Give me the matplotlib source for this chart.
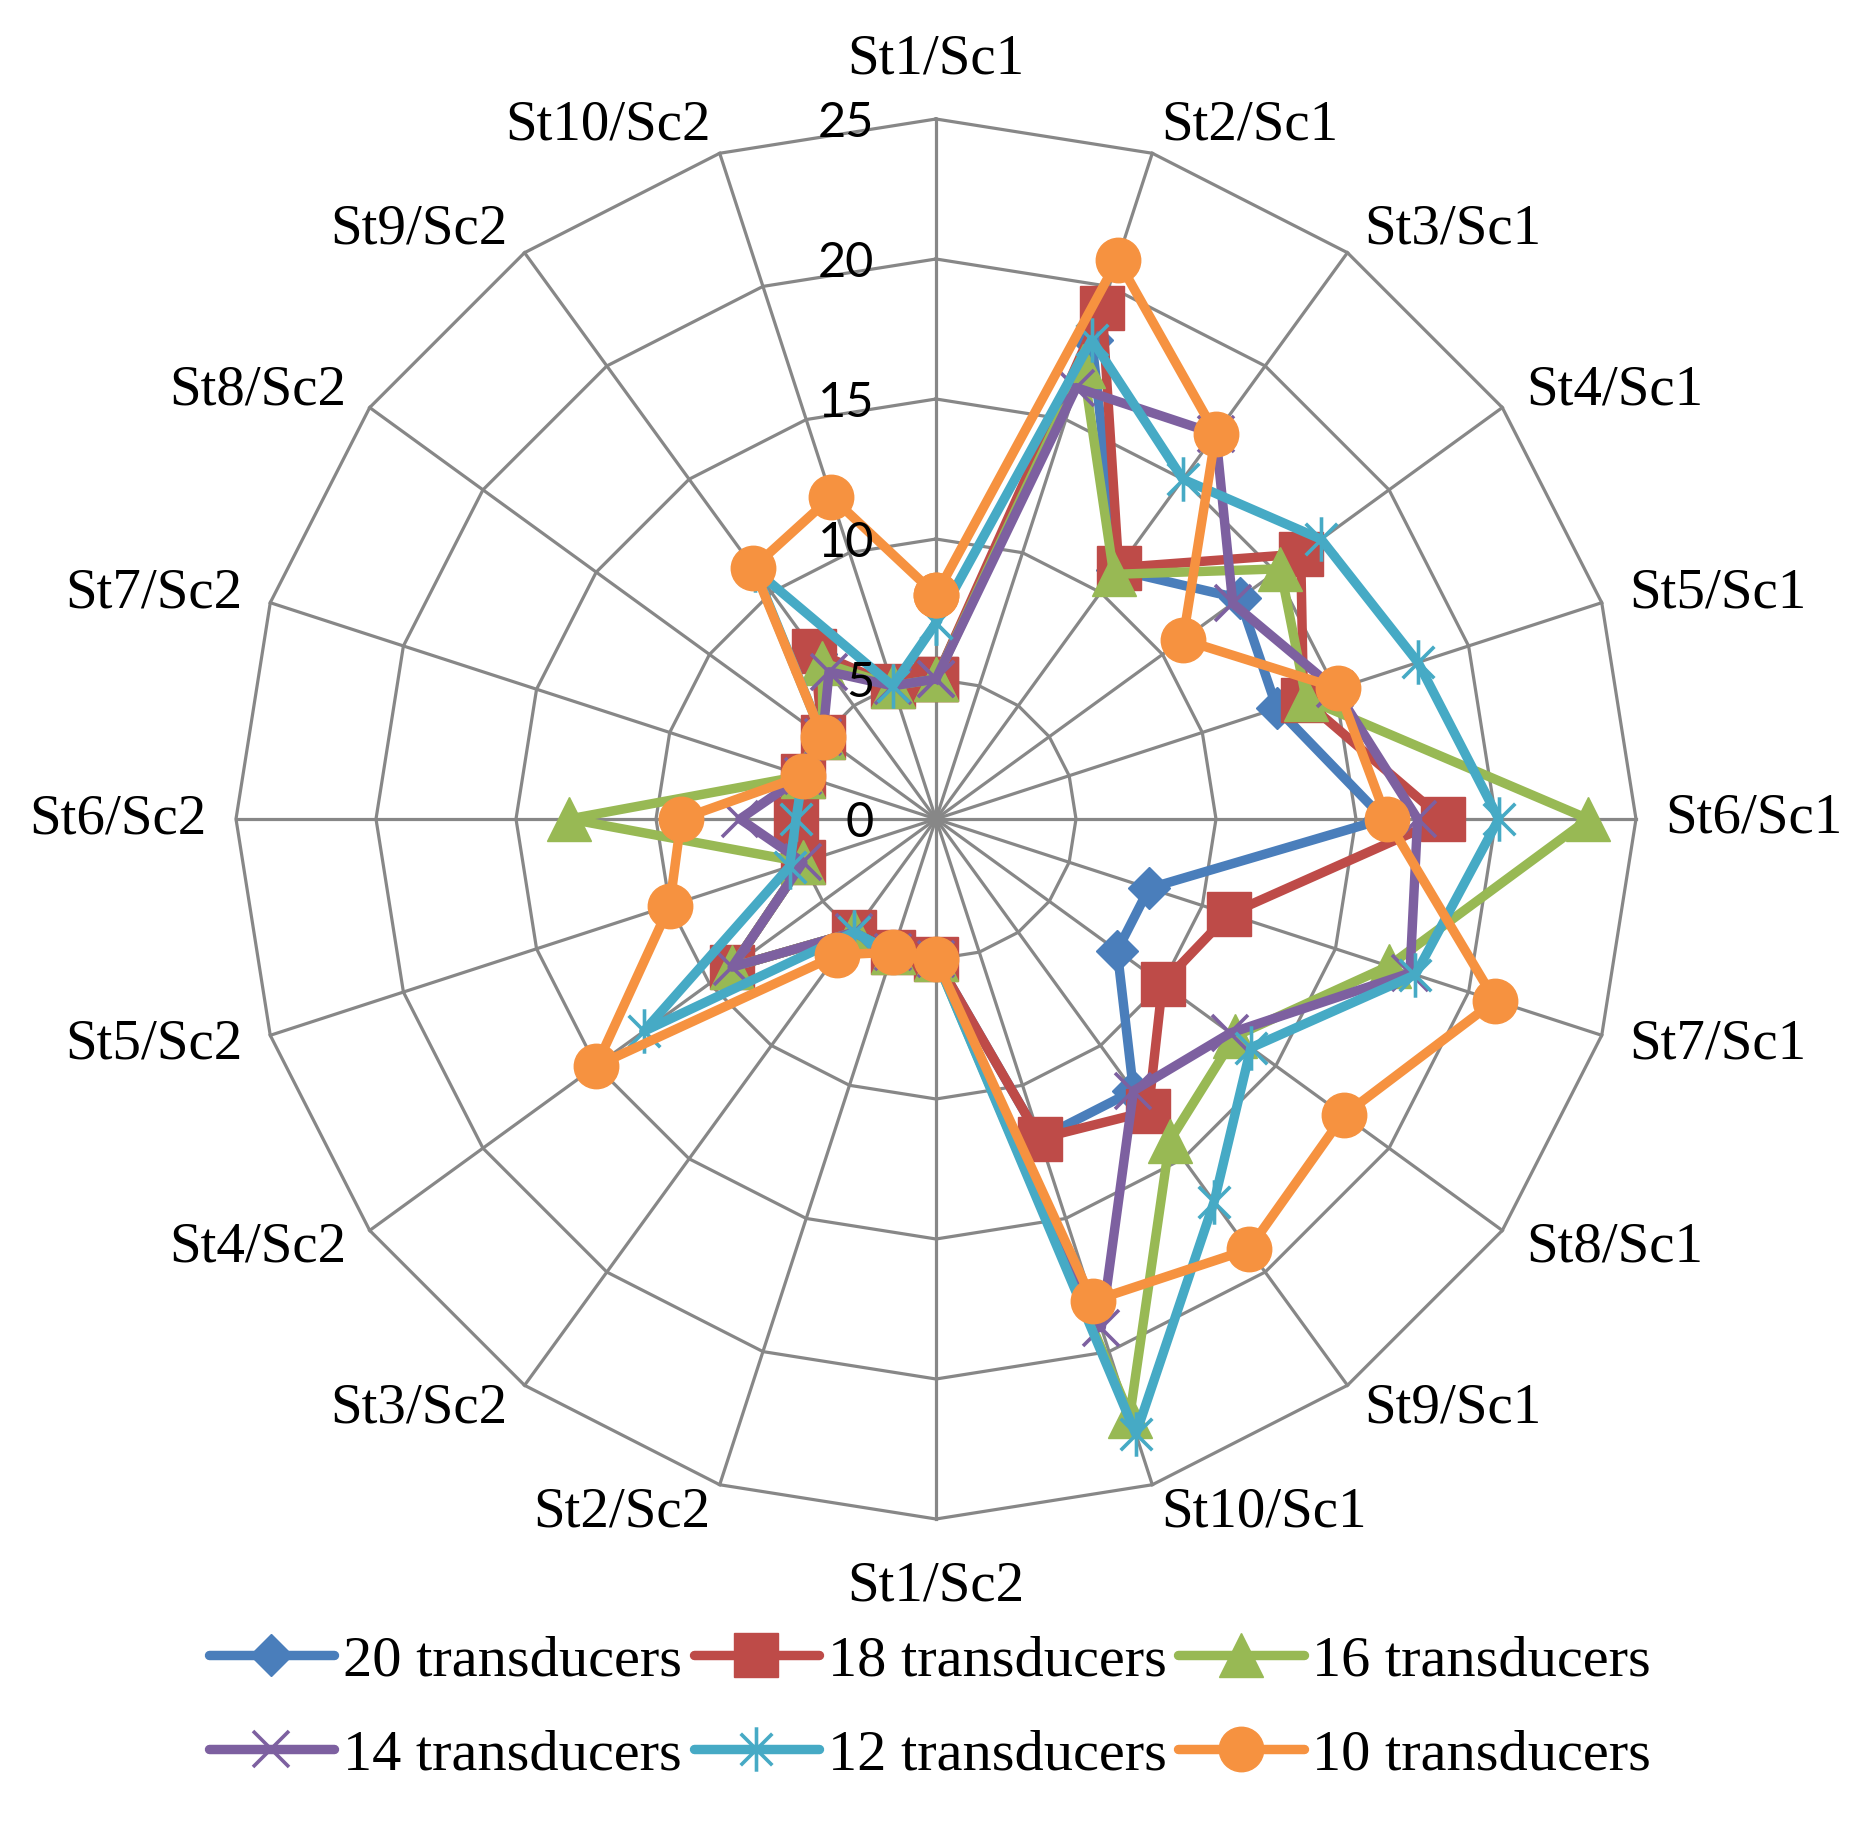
import numpy as np
import matplotlib
matplotlib.use('Agg')
import matplotlib.pyplot as plt
from matplotlib.path import Path
from matplotlib.lines import Line2D

# ---------------- data ----------------
categories = ['St1/Sc1', 'St2/Sc1', 'St3/Sc1', 'St4/Sc1', 'St5/Sc1',
              'St6/Sc1', 'St7/Sc1', 'St8/Sc1', 'St9/Sc1', 'St10/Sc1',
              'St1/Sc2', 'St2/Sc2', 'St3/Sc2', 'St4/Sc2', 'St5/Sc2',
              'St6/Sc2', 'St7/Sc2', 'St8/Sc2', 'St9/Sc2', 'St10/Sc2']
r_ticks = [0, 5, 10, 15, 20, 25]

series_names = ['20 transducers', '18 transducers', '16 transducers',
                '14 transducers', '12 transducers', '10 transducers']
t20 = [5, 18, 11, 13.4, 12.8, 16, 8, 8, 12, 12, 5, 5, 5, 9, 5, 5, 5, 5, 7.3, 5]
t18 = [5, 19.2, 11.1, 16.1, 13.8, 18.1, 11, 10, 12.9, 12, 5, 5, 5, 9, 5, 5, 5, 5, 7.4, 5]
t16 = [5, 17, 10.8, 15.2, 13.9, 23.3, 17, 13.2, 14.2, 22.4, 5, 5, 5, 9, 5, 13.1, 5, 5, 6.9, 5]
t14 = [5, 16.2, 17, 13.1, 15, 17.2, 17.8, 13, 12, 19.1, 5, 5, 5, 9, 5, 7, 5, 5, 6.5, 5]
t12 = [7, 18, 15, 17, 18.1, 20.1, 18, 13.9, 16.9, 23.1, 5, 5, 5, 12.9, 5.5, 5, 5, 5, 11, 5]
t10 = [8, 21, 17, 10.9, 15.1, 16.1, 21, 18, 19, 18.1, 5, 5, 6, 15, 10, 9.1, 5, 5, 11.1, 12.1]
series_values = [t20, t18, t16, t14, t12, t10]

# ---------------- style ----------------
colors = ['#4A7EBB', '#BE4B48', '#98B954', '#7D60A0', '#46AAC5', '#F69240']
star = Path([(0, -1), (0, 1), (-0.71, -0.71), (0.71, 0.71), (-0.71, 0.71), (0.71, -0.71)],
            [Path.MOVETO, Path.LINETO] * 3)
marker_specs = [
    dict(marker='D', markersize=21),
    dict(marker='s', markersize=31),
    dict(marker='^', markersize=31),
    dict(marker='x', markersize=26, markeredgewidth=2.6),
    dict(marker=star, markersize=32, markeredgewidth=2.6, markerfacecolor='none'),
    dict(marker='o', markersize=32),
]
line_w = 6.8
grid_color = '#878787'
serif = ['Liberation Serif', 'DejaVu Serif']
sans = ['Lato', 'DejaVu Sans']

W, H = 1867, 1822
cx, cy, R = 936, 819, 700
fig = plt.figure(figsize=(W / 100, H / 100), dpi=100)
ax = fig.add_axes([(cx - R) / W, 1 - (cy + R) / H, 2 * R / W, 2 * R / H], projection='polar')
ax.set_theta_zero_location('N')
ax.set_theta_direction(-1)
ax.set_ylim(r_ticks[0], r_ticks[-1])
ax.grid(False)
ax.set_xticks([])
ax.set_yticks([])
ax.spines['polar'].set_visible(False)
ax.patch.set_visible(False)

n = len(categories)
theta = np.arange(n) * 2 * np.pi / n
theta_c = np.append(theta, theta[0])

# polygon grid
for v in r_ticks[1:]:
    ax.plot(theta_c, [v] * (n + 1), color=grid_color, lw=2.3, zorder=1, clip_on=False)
for t in theta:
    ax.plot([t, t], [r_ticks[0], r_ticks[-1]], color=grid_color, lw=2.3, zorder=1, clip_on=False)

# radial tick labels
for v in r_ticks:
    ax.annotate(str(v), xy=(0, v), xytext=(-44.5, -13), textcoords='offset points',
                ha='right', va='baseline', fontsize=35, family=sans, color='black',
                annotation_clip=False, zorder=5)

# series
for vals, col, ms in zip(series_values, colors, marker_specs):
    kw = dict(ms)
    kw.setdefault('markerfacecolor', col)
    ax.plot(theta_c, np.append(vals, vals[0]), color=col, lw=line_w,
            markeredgecolor=col, zorder=3, clip_on=False, **kw)

# category labels
off = 20.9
for t, lab in zip(theta, categories):
    s, c = np.sin(t), np.cos(t)
    if abs(s) < 0.01:
        if c > 0:
            ax.annotate(lab, xy=(t, r_ticks[-1]), xytext=(0, 32.4), textcoords='offset points',
                        ha='center', va='baseline', fontsize=41, family=serif, annotation_clip=False)
        else:
            ax.annotate(lab, xy=(t, r_ticks[-1]), xytext=(0, -30), textcoords='offset points',
                        ha='center', va='top', fontsize=41, family=serif, annotation_clip=False)
    else:
        ax.annotate(lab, xy=(t, r_ticks[-1]), xytext=(off * s, off * c), textcoords='offset points',
                    ha='left' if s > 0 else 'right', va='center', fontsize=41, family=serif,
                    annotation_clip=False)

# legend (row-wise order)
handles = []
for col, ms in zip(colors, marker_specs):
    kw = dict(ms)
    kw.setdefault('markerfacecolor', col)
    handles.append(Line2D([], [], color=col, lw=line_w, markeredgecolor=col,
                          solid_capstyle='round', **kw))
order = [0, 3, 1, 4, 2, 5]
fig.legend([handles[i] for i in order], [series_names[i] for i in order],
           loc='center', bbox_to_anchor=(930 / W, 1 - 1708 / H), ncol=3, frameon=False,
           prop={'family': serif, 'size': 42}, handlelength=2.15, handletextpad=0.15,
           columnspacing=0.2, labelspacing=0.72, borderpad=0, numpoints=1)

fig.savefig('out.png', dpi=100, facecolor='white')
